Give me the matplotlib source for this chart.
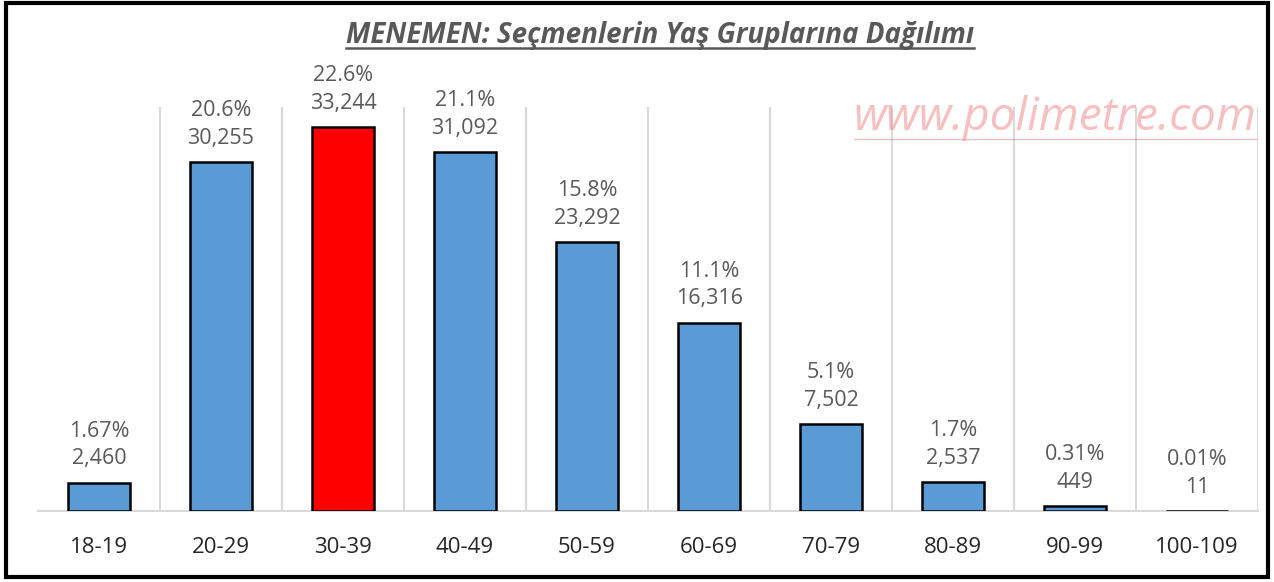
import matplotlib.pyplot as plt
from matplotlib.patches import Rectangle
from matplotlib.lines import Line2D

# veriler
groups = ["18-19", "20-29", "30-39", "40-49", "50-59", "60-69", "70-79", "80-89", "90-99", "100-109"]
voters = [2460, 30255, 33244, 31092, 23292, 16316, 7502, 2537, 449, 11]
percents = ["1.67%", "20.6%", "22.6%", "21.1%", "15.8%", "11.1%", "5.1%", "1.7%", "0.31%", "0.01%"]
highlight = "30-39"

plt.rcParams['font.family'] = ['Open Sans', 'DejaVu Sans']

fig = plt.figure(figsize=(12.74, 5.82), dpi=100)
ax = fig.add_axes([38 / 1274, 71 / 582, 1220 / 1274, 404 / 582])

x = list(range(len(groups)))
colors = ["#FF0000" if g == highlight else "#5B9BD5" for g in groups]
ax.bar(x, voters, width=0.51, color=colors, edgecolor="black", linewidth=1.8, zorder=3)

for i, (v, p) in enumerate(zip(voters, percents)):
    ax.annotate(p + "\n" + format(v, ","), xy=(i, v), xytext=(0, 9.5), textcoords="offset points",
                ha="center", va="bottom", fontsize=15.5, color="#595959", linespacing=1.42)

ax.set_xlim(-0.5, len(groups) - 0.5)
ax.set_ylim(0, 35000)
for b in range(len(groups)):
    ax.axvline(b + 0.5, color="#d9d9d9", linewidth=1.5, zorder=0)

for s in ["top", "right", "left"]:
    ax.spines[s].set_visible(False)
ax.spines["bottom"].set_color("#d9d9d9")
ax.spines["bottom"].set_linewidth(1.5)
ax.set_yticks([])
ax.set_xticks(x)
ax.set_xticklabels(groups, fontsize=16, color="#262626")
ax.tick_params(axis="x", length=0, pad=19)

# başlık (altı çizili)
title = fig.text(660 / 1274, 1 - 36 / 582, "MENEMEN: Seçmenlerin Yaş Gruplarına Dağılımı",
                 ha="center", va="center", fontsize=20, fontweight="bold", fontstyle="italic",
                 color="#595959")
wm = fig.text(1055 / 1274, 1 - 118 / 582, "www.polimetre.com", ha="center", va="center",
              fontsize=33, fontstyle="italic", color="#F08080", alpha=0.5, zorder=1)

fig.canvas.draw()
r = fig.canvas.get_renderer()
for t, c, lw, a in [(title, "#595959", 1.8, 1.0), (wm, "#F08080", 1.0, 0.5)]:
    bb = t.get_window_extent(r).transformed(fig.transFigure.inverted())
    fig.add_artist(Line2D([bb.x0, bb.x1], [bb.y0 + 0.004, bb.y0 + 0.004], color=c,
                          linewidth=lw, alpha=a, transform=fig.transFigure))

# çerçeve
fig.add_artist(Rectangle((6 / 1274, 5 / 582), 1262 / 1274, 574 / 582, transform=fig.transFigure,
                         fill=False, edgecolor="black", linewidth=3))

plt.savefig("out.png", dpi=100)
